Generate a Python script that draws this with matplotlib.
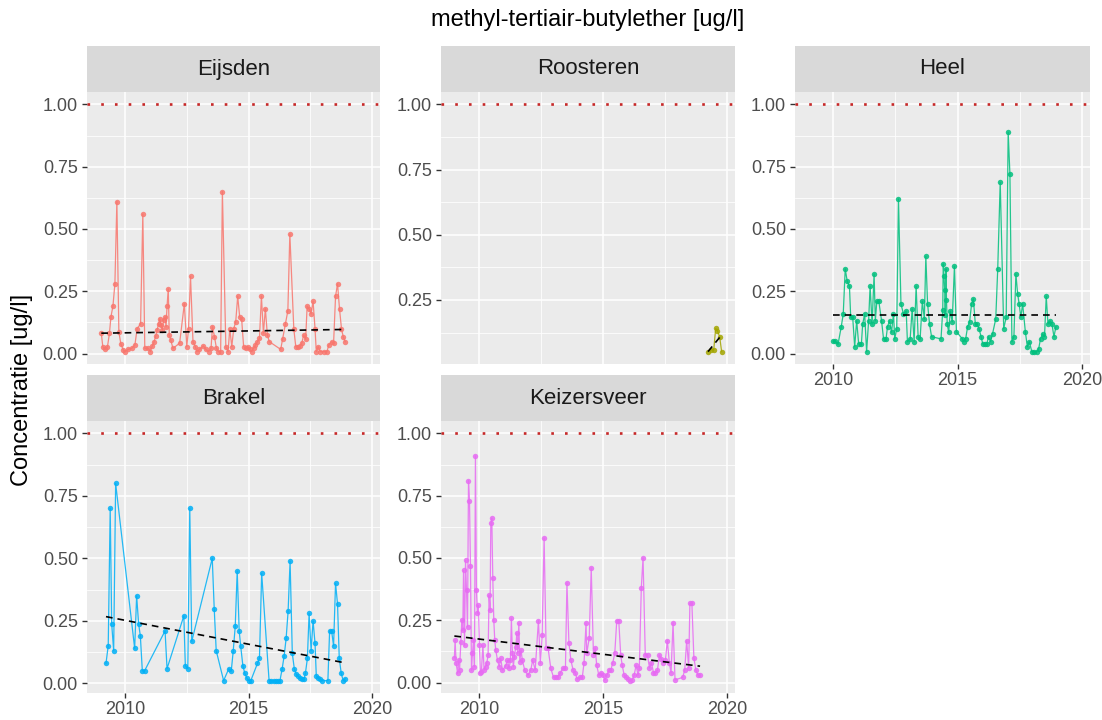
import matplotlib
matplotlib.use('Agg')
import matplotlib.pyplot as plt
import numpy as np
from matplotlib.ticker import FixedLocator, FormatStrFormatter

plt.rcParams['font.family'] = ['Liberation Sans', 'DejaVu Sans']

# Meetpunten en waarden (jaar, concentratie ug/l)
eijsden_year = [2009.04, 2009.10, 2009.20, 2009.29, 2009.37, 2009.43, 2009.51, 2009.59, 2009.67, 2009.75,
                2009.83, 2009.93, 2010.00, 2010.13, 2010.27, 2010.40, 2010.49, 2010.63, 2010.72, 2010.80,
                2010.94, 2011.03, 2011.10, 2011.17, 2011.24, 2011.30, 2011.36, 2011.41, 2011.46, 2011.51,
                2011.56, 2011.62, 2011.66, 2011.70, 2011.75, 2011.79, 2011.85, 2011.94, 2012.21, 2012.40,
                2012.50, 2012.57, 2012.65, 2012.75, 2012.85, 2012.90, 2013.01, 2013.17, 2013.27, 2013.38,
                2013.48, 2013.54, 2013.62, 2013.70, 2013.78, 2013.87, 2013.94, 2014.08, 2014.17, 2014.24,
                2014.32, 2014.40, 2014.48, 2014.56, 2014.64, 2014.72, 2014.80, 2014.88, 2014.96, 2015.04,
                2015.12, 2015.20, 2015.28, 2015.36, 2015.44, 2015.52, 2015.60, 2015.68, 2015.76, 2015.84,
                2016.30, 2016.38, 2016.49, 2016.59, 2016.67, 2016.83, 2016.91, 2016.99, 2017.07, 2017.15,
                2017.23, 2017.31, 2017.37, 2017.46, 2017.53, 2017.61, 2017.69, 2017.74, 2017.82, 2017.90,
                2018.06, 2018.17, 2018.25, 2018.36, 2018.44, 2018.52, 2018.60, 2018.68, 2018.76, 2018.83,
                2018.91]
eijsden_val = [0.082, 0.028, 0.017, 0.028, 0.082, 0.148, 0.19, 0.28, 0.61, 0.088,
               0.039, 0.015, 0.008, 0.017, 0.021, 0.035, 0.10, 0.12, 0.56, 0.021,
               0.021, 0.008, 0.03, 0.045, 0.07, 0.095, 0.12, 0.14, 0.115, 0.095,
               0.135, 0.148, 0.108, 0.19, 0.26, 0.075, 0.055, 0.021, 0.042, 0.20,
               0.028, 0.10, 0.31, 0.048, 0.028, 0.008, 0.017, 0.031, 0.017, 0.008,
               0.021, 0.108, 0.068, 0.021, 0.008, 0.008, 0.65, 0.028, 0.008, 0.10,
               0.028, 0.10, 0.128, 0.23, 0.148, 0.138, 0.028, 0.021, 0.028, 0.017,
               0.008, 0.021, 0.035, 0.048, 0.061, 0.23, 0.082, 0.18, 0.075, 0.048,
               0.017, 0.06, 0.119, 0.172, 0.48, 0.10, 0.028, 0.028, 0.031, 0.041,
               0.075, 0.058, 0.19, 0.178, 0.159, 0.21, 0.10, 0.008, 0.028, 0.008,
               0.008, 0.008, 0.035, 0.048, 0.041, 0.23, 0.28, 0.18, 0.10, 0.068,
               0.048]

roosteren_year = [2019.23, 2019.34, 2019.46, 2019.54, 2019.61, 2019.70, 2019.78]
roosteren_val = [0.052, 0.058, 0.058, 0.141, 0.132, 0.109, 0.052]

heel_year = [2010.00, 2010.08, 2010.19, 2010.32, 2010.40, 2010.48, 2010.56, 2010.65, 2010.70, 2010.78,
             2010.86, 2010.94, 2011.02, 2011.13, 2011.18, 2011.26, 2011.34, 2011.42, 2011.48, 2011.56,
             2011.64, 2011.69, 2011.75, 2011.83, 2011.94, 2012.02, 2012.12, 2012.18, 2012.26, 2012.34,
             2012.42, 2012.47, 2012.55, 2012.62, 2012.72, 2012.82, 2012.93, 2012.98, 2013.09, 2013.17,
             2013.25, 2013.33, 2013.41, 2013.49, 2013.58, 2013.66, 2013.72, 2013.79, 2013.87, 2013.95,
             2014.33, 2014.40, 2014.42, 2014.45, 2014.48, 2014.50, 2014.53, 2014.55, 2014.58, 2014.64,
             2014.70, 2014.78, 2014.87, 2014.95, 2015.19, 2015.24, 2015.32, 2015.40, 2015.48, 2015.56,
             2015.63, 2015.71, 2015.78, 2015.86, 2015.94, 2016.01, 2016.10, 2016.17, 2016.24, 2016.32,
             2016.40, 2016.53, 2016.61, 2016.71, 2016.85, 2016.95, 2017.03, 2017.10, 2017.18, 2017.26,
             2017.34, 2017.41, 2017.47, 2017.54, 2017.61, 2017.72, 2017.80, 2017.88, 2017.98, 2018.06,
             2018.17, 2018.25, 2018.33, 2018.41, 2018.49, 2018.56, 2018.63, 2018.71, 2018.79, 2018.87,
             2018.95]
heel_val = [0.051, 0.051, 0.037, 0.108, 0.159, 0.34, 0.29, 0.27, 0.146, 0.146,
            0.028, 0.132, 0.039, 0.039, 0.118, 0.159, 0.008, 0.132, 0.27, 0.118,
            0.32, 0.132, 0.21, 0.21, 0.132, 0.059, 0.059, 0.108, 0.132, 0.086,
            0.159, 0.059, 0.10, 0.62, 0.20, 0.159, 0.171, 0.048, 0.059, 0.179,
            0.048, 0.27, 0.068, 0.059, 0.21, 0.139, 0.39, 0.20, 0.118, 0.068,
            0.059, 0.175, 0.36, 0.31, 0.255, 0.155, 0.34, 0.215, 0.118, 0.086,
            0.171, 0.128, 0.35, 0.088, 0.059, 0.048, 0.059, 0.108, 0.128, 0.20,
            0.22, 0.118, 0.118, 0.10, 0.068, 0.039, 0.039, 0.039, 0.068, 0.048,
            0.079, 0.139, 0.34, 0.687, 0.10, 0.146, 0.888, 0.72, 0.048, 0.068,
            0.32, 0.24, 0.20, 0.146, 0.20, 0.088, 0.028, 0.048, 0.008, 0.008,
            0.008, 0.017, 0.059, 0.079, 0.068, 0.23, 0.118, 0.132, 0.118, 0.068,
            0.108]

brakel_year = [2009.23, 2009.32, 2009.40, 2009.46, 2009.54, 2009.62, 2010.39, 2010.47, 2010.55, 2010.62,
               2010.70, 2010.79, 2011.62, 2011.70, 2012.38, 2012.44, 2012.54, 2012.62, 2012.70, 2013.53,
               2013.61, 2013.69, 2013.99, 2014.20, 2014.30, 2014.38, 2014.46, 2014.54, 2014.62, 2014.68,
               2014.77, 2014.85, 2014.93, 2015.01, 2015.09, 2015.36, 2015.44, 2015.53, 2015.83, 2015.92,
               2016.01, 2016.11, 2016.19, 2016.27, 2016.36, 2016.44, 2016.52, 2016.60, 2016.68, 2016.77,
               2016.85, 2016.93, 2017.01, 2017.09, 2017.17, 2017.25, 2017.30, 2017.38, 2017.45, 2017.53,
               2017.61, 2017.69, 2017.74, 2017.83, 2017.91, 2017.99, 2018.21, 2018.28, 2018.36, 2018.44,
               2018.52, 2018.60, 2018.67, 2018.75, 2018.83, 2018.91]
brakel_val = [0.08, 0.151, 0.70, 0.238, 0.131, 0.80, 0.14, 0.35, 0.238, 0.19,
              0.05, 0.05, 0.21, 0.059, 0.27, 0.071, 0.059, 0.70, 0.168, 0.50,
              0.298, 0.131, 0.011, 0.059, 0.05, 0.131, 0.228, 0.449, 0.21, 0.15,
              0.07, 0.04, 0.021, 0.011, 0.011, 0.08, 0.10, 0.44, 0.011, 0.011,
              0.011, 0.011, 0.011, 0.011, 0.059, 0.11, 0.18, 0.289, 0.489, 0.12,
              0.059, 0.037, 0.029, 0.021, 0.019, 0.019, 0.04, 0.10, 0.28, 0.131,
              0.25, 0.16, 0.031, 0.021, 0.016, 0.011, 0.011, 0.21, 0.21, 0.15,
              0.40, 0.318, 0.10, 0.04, 0.011, 0.019]

keizersveer_year = [2009.00, 2009.03, 2009.07, 2009.13, 2009.17, 2009.21, 2009.26, 2009.30, 2009.34, 2009.37,
                    2009.41, 2009.45, 2009.49, 2009.53, 2009.57, 2009.61, 2009.65, 2009.69, 2009.73, 2009.77,
                    2009.81, 2009.85, 2009.89, 2009.93, 2009.97, 2010.01, 2010.05, 2010.09, 2010.15, 2010.20,
                    2010.26, 2010.31, 2010.36, 2010.40, 2010.44, 2010.47, 2010.51, 2010.55, 2010.59, 2010.63,
                    2010.67, 2010.74, 2010.81, 2010.87, 2010.94, 2011.07, 2011.14, 2011.21, 2011.26, 2011.30,
                    2011.34, 2011.38, 2011.42, 2011.48, 2011.52, 2011.56, 2011.60, 2011.64, 2011.69, 2011.74,
                    2011.84, 2011.97, 2012.08, 2012.16, 2012.26, 2012.39, 2012.47, 2012.54, 2012.62, 2012.70,
                    2012.78, 2012.89, 2013.00, 2013.10, 2013.18, 2013.26, 2013.37, 2013.48, 2013.54, 2013.62,
                    2013.70, 2013.79, 2013.88, 2013.96, 2014.07, 2014.16, 2014.23, 2014.31, 2014.34, 2014.44,
                    2014.52, 2014.61, 2014.68, 2014.74, 2014.83, 2014.91, 2014.99, 2015.07, 2015.15, 2015.23,
                    2015.31, 2015.39, 2015.47, 2015.55, 2015.63, 2015.71, 2015.77, 2015.85, 2015.93, 2016.01,
                    2016.09, 2016.17, 2016.25, 2016.33, 2016.41, 2016.46, 2016.54, 2016.61, 2016.70, 2016.79,
                    2016.87, 2016.95, 2017.03, 2017.11, 2017.19, 2017.27, 2017.35, 2017.43, 2017.51, 2017.59,
                    2017.67, 2017.74, 2017.82, 2017.90, 2018.21, 2018.29, 2018.37, 2018.45, 2018.50, 2018.58,
                    2018.66, 2018.74, 2018.83, 2018.91]
keizersveer_val = [0.10, 0.17, 0.08, 0.037, 0.09, 0.05, 0.164, 0.25, 0.21, 0.45,
                   0.15, 0.49, 0.37, 0.224, 0.81, 0.73, 0.468, 0.05, 0.118, 0.17,
                   0.064, 0.91, 0.37, 0.278, 0.31, 0.15, 0.037, 0.044, 0.15, 0.05,
                   0.064, 0.08, 0.11, 0.35, 0.29, 0.64, 0.66, 0.42, 0.25, 0.17,
                   0.13, 0.09, 0.064, 0.097, 0.05, 0.067, 0.09, 0.057, 0.09, 0.258,
                   0.118, 0.064, 0.104, 0.144, 0.198, 0.118, 0.238, 0.084, 0.131, 0.09,
                   0.05, 0.03, 0.05, 0.09, 0.05, 0.248, 0.077, 0.19, 0.58, 0.138,
                   0.138, 0.057, 0.021, 0.021, 0.024, 0.037, 0.057, 0.057, 0.40, 0.16,
                   0.09, 0.05, 0.037, 0.013, 0.021, 0.021, 0.08, 0.238, 0.118, 0.179,
                   0.46, 0.111, 0.139, 0.07, 0.029, 0.04, 0.029, 0.011, 0.029, 0.05,
                   0.05, 0.08, 0.118, 0.249, 0.249, 0.11, 0.07, 0.029, 0.021, 0.013,
                   0.008, 0.011, 0.029, 0.07, 0.029, 0.059, 0.38, 0.50, 0.11, 0.11,
                   0.059, 0.08, 0.04, 0.04, 0.05, 0.11, 0.094, 0.08, 0.09, 0.168,
                   0.08, 0.04, 0.24, 0.011, 0.021, 0.05, 0.168, 0.059, 0.318, 0.318,
                   0.10, 0.05, 0.029, 0.029]

stations = ["Eijsden", "Roosteren", "Heel", "Brakel", "Keizersveer"]
years = [eijsden_year, roosteren_year, heel_year, brakel_year, keizersveer_year]
values = [eijsden_val, roosteren_val, heel_val, brakel_val, keizersveer_val]
trend_start = [0.082, 0.052, 0.154, 0.267, 0.187]
trend_end = [0.097, 0.116, 0.154, 0.082, 0.066]
colors = ["#F8766D", "#A3A500", "#00BF7D", "#00B0F6", "#E76BF3"]
norm = 1.0  # norm / streefwaarde

W, H = 1102, 720
# panel posities in pixels: (links, boven, rechts, onder)
panels = [(87, 92, 380, 364), (441, 92, 735, 364), (795, 92, 1090, 364),
          (87, 421, 380, 693), (441, 421, 735, 693)]
strip_h = 46
show_x = [False, False, True, True, True]

fig = plt.figure(figsize=(W / 100, H / 100), dpi=100)

all_x = np.concatenate([np.array(y) for y in years])
xr = all_x.max() - all_x.min()
xlim = (all_x.min() - 0.05 * xr, all_x.max() + 0.05 * xr)


def px_axes(l, t, r, b):
    return fig.add_axes([l / W, 1 - b / H, (r - l) / W, (b - t) / H])


for i, name in enumerate(stations):
    l, t, r, b = panels[i]
    ax = px_axes(l, t, r, b)
    ax.set_facecolor("#EBEBEB")
    for s in ax.spines.values():
        s.set_visible(False)

    x = np.array(years[i])
    y = np.array(values[i])

    ax.plot(x, y, color=colors[i], lw=0.9, alpha=0.85, zorder=3)
    ax.plot(x, y, "o", color=colors[i], ms=3.9, mew=0, alpha=0.85, zorder=4)

    # lineaire trend
    ax.plot([x.min(), x.max()], [trend_start[i], trend_end[i]], color="black",
            lw=1.2, dashes=(4, 3), zorder=5)

    ax.axhline(norm, color="#C62828", lw=1.9, dashes=(1, 4.2), zorder=5)

    lo = min(y.min(), norm)
    hi = max(y.max(), norm)
    yr = hi - lo
    ax.set_ylim(lo - 0.05 * yr, hi + 0.05 * yr)
    ax.set_xlim(*xlim)

    ax.yaxis.set_major_locator(FixedLocator([0, 0.25, 0.5, 0.75, 1.0]))
    ax.yaxis.set_minor_locator(FixedLocator([0.125, 0.375, 0.625, 0.875]))
    ax.yaxis.set_major_formatter(FormatStrFormatter("%.2f"))
    ax.xaxis.set_major_locator(FixedLocator([2010, 2015, 2020]))
    ax.xaxis.set_minor_locator(FixedLocator([2007.5, 2012.5, 2017.5]))
    ax.grid(which="major", color="white", lw=1.1)
    ax.grid(which="minor", color="white", lw=0.55)
    ax.set_axisbelow(True)
    ax.tick_params(which="minor", length=0)
    ax.tick_params(axis="y", length=3.5, width=1.0, color="#333333",
                   labelsize=13, labelcolor="#4D4D4D", pad=3)
    if show_x[i]:
        ax.tick_params(axis="x", length=3.5, width=1.0, color="#333333",
                       labelsize=13, labelcolor="#4D4D4D", pad=2)
    else:
        ax.tick_params(axis="x", length=0, labelbottom=False)

    # strip met stationsnaam
    sax = px_axes(l, t - strip_h, r, t)
    sax.set_facecolor("#D9D9D9")
    sax.set_xticks([])
    sax.set_yticks([])
    for s in sax.spines.values():
        s.set_visible(False)
    sax.text(0.5, 0.5, name, ha="center", va="center", fontsize=16,
             color="#1A1A1A", transform=sax.transAxes)

fig.text(588 / W, 1 - 20 / H, "methyl-tertiair-butylether [ug/l]", ha="center", va="center",
         fontsize=17, color="black")
fig.text(22 / W, 1 - 390 / H, "Concentratie [ug/l]", ha="center", va="center",
         rotation=90, fontsize=17, color="black")

fig.savefig("out.png", dpi=100)
